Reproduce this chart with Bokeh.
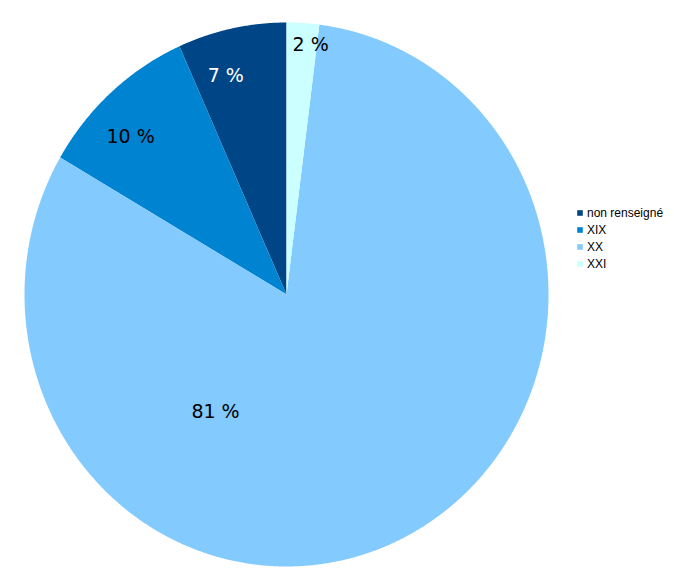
import numpy as np
from bokeh.plotting import figure
from bokeh.models import Range1d, Legend, LegendItem, ColumnDataSource
from bokeh.core.properties import value
from bokeh.embed import file_html
from bokeh.resources import INLINE

# ---- data ----
categories = ["non renseigné", "XIX", "XX", "XXI"]
shares = [6.7, 9.9, 81.4, 2.0]          # percent
colors = ["#004586", "#0084d1", "#83caff", "#ccffff"]

# label styling (angle ccw from top in degrees, radial fraction, text colour)
label_angle = [16.0, 45.6, 147.7, 354.3]
label_frac = [0.84, 0.833, 0.507, 0.927]
label_color = ["#ffffff", "#000000", "#000000", "#000000"]

W, H = 674, 577
cx_px, cy_px, rx_px, ry_px = 286, 294, 262, 272

p = figure(width=W, height=H, output_backend="svg", toolbar_location=None,
           min_border=0, outline_line_color=None,
           x_range=Range1d(-cx_px / rx_px, (W - cx_px) / rx_px),
           y_range=Range1d(-(H - cy_px) / ry_px, cy_px / ry_px))
p.axis.visible = False
p.grid.visible = False
p.background_fill_color = "white"
p.border_fill_color = "white"

total = sum(shares)
start = 0.0
items = []
for cat, s, c in zip(categories, shares, colors):
    end = start + s / total * 2 * np.pi
    t = np.linspace(start, end, max(int((end - start) / 0.005), 4))
    xs = np.concatenate([[0.0], -np.sin(t), [0.0]])
    ys = np.concatenate([[0.0], np.cos(t), [0.0]])
    r = p.patch(xs, ys, fill_color=c, line_color=None)
    items.append(LegendItem(label=cat, renderers=[r]))
    start = end

# labels
lx = [-f * np.sin(np.radians(a)) for a, f in zip(label_angle, label_frac)]
ly = [f * np.cos(np.radians(a)) for a, f in zip(label_angle, label_frac)]
texts = [f"{round(s / total * 100):.0f} %" for s in shares]
src = ColumnDataSource(dict(x=lx, y=ly, text=texts, color=label_color))
p.text(x="x", y="y", text="text", source=src, text_color="color",
       text_align="center", text_baseline="middle",
       text_font=value("DejaVu Sans"), text_font_size="19px")

legend = Legend(items=items, location=(576, 306),
                glyph_width=7, glyph_height=7, label_standoff=4,
                spacing=2, padding=0, margin=0,
                label_height=15, label_text_font="Liberation Sans",
                label_text_font_size="12px", label_text_color="#000000",
                border_line_color=None, background_fill_alpha=0)
p.add_layout(legend)

open("out.html", "w").write(file_html(p, INLINE))
